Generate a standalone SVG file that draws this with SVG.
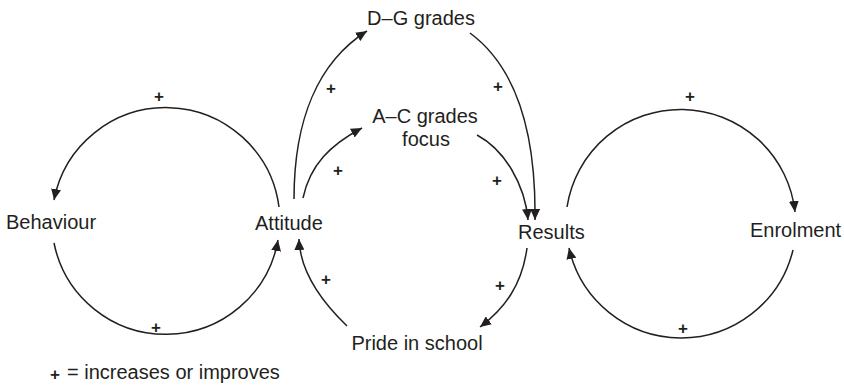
<svg xmlns="http://www.w3.org/2000/svg" width="844" height="386" viewBox="0 0 844 386">
<style>
.lbl{font-family:"Liberation Sans",Arial,Helvetica,sans-serif;font-size:20px;fill:#231f20}
.pl{font-family:"Liberation Sans",Arial,sans-serif;font-size:17px;font-weight:bold;fill:#231f20;text-anchor:middle}
.c{fill:none;stroke:#231f20;stroke-width:1.5}
</style>
<defs>
<marker id="ah" markerUnits="userSpaceOnUse" markerWidth="12" markerHeight="10" refX="11" refY="5" orient="auto">
<path d="M0,0 L11,5 L0,10 Z" fill="#231f20"/>
</marker>
</defs>
<rect width="844" height="386" fill="#fff"/>
<g id="connectors">
<path class="c" marker-end="url(#ah)" d="M279,207 A114,114 0 0 0 54,200"/>
<path class="c" marker-end="url(#ah)" d="M54,243 A114,114 0 0 0 278,240"/>
<path class="c" marker-end="url(#ah)" d="M294,199 C294,120 318,62 367,31"/>
<path class="c" marker-end="url(#ah)" d="M303,198 C310,165 330,145 362,128"/>
<path class="c" marker-end="url(#ah)" d="M470,33 C520,70 536,140 535,220"/>
<path class="c" marker-end="url(#ah)" d="M477,135 C505,150 525,185 528,220"/>
<path class="c" marker-end="url(#ah)" d="M527,248 C522,285 505,308 480,327"/>
<path class="c" marker-end="url(#ah)" d="M347,326 C320,300 300,270 299,239"/>
<path class="c" marker-end="url(#ah)" d="M567,207 A115,115 0 0 1 795,212"/>
<path class="c" marker-end="url(#ah)" d="M793,250 A115,115 0 0 1 569,248"/>
</g>
<g id="signs">
<text class="pl" x="159" y="102">+</text>
<text class="pl" x="156" y="333">+</text>
<text class="pl" x="331" y="94">+</text>
<text class="pl" x="498" y="92">+</text>
<text class="pl" x="338" y="176">+</text>
<text class="pl" x="497" y="186">+</text>
<text class="pl" x="690" y="102">+</text>
<text class="pl" x="683" y="334">+</text>
<text class="pl" x="500" y="291">+</text>
<text class="pl" x="326" y="285">+</text>
</g>
<g id="node-behaviour"><text class="lbl" x="6" y="229">Behaviour</text></g>
<g id="node-attitude"><text class="lbl" x="255" y="230">Attitude</text></g>
<g id="node-dg"><text class="lbl" x="421" y="25" text-anchor="middle">D–G grades</text></g>
<g id="node-ac"><text class="lbl" x="425" y="123" text-anchor="middle">A–C grades</text><text class="lbl" x="426" y="146" text-anchor="middle">focus</text></g>
<g id="node-results"><text class="lbl" x="518" y="239">Results</text></g>
<g id="node-enrolment"><text class="lbl" x="750" y="237">Enrolment</text></g>
<g id="node-pride"><text class="lbl" x="417" y="350" text-anchor="middle">Pride in school</text></g>
<g id="legend"><text class="pl" x="55" y="380">+</text><text class="lbl" x="67" y="379">= increases or improves</text></g>
</svg>
